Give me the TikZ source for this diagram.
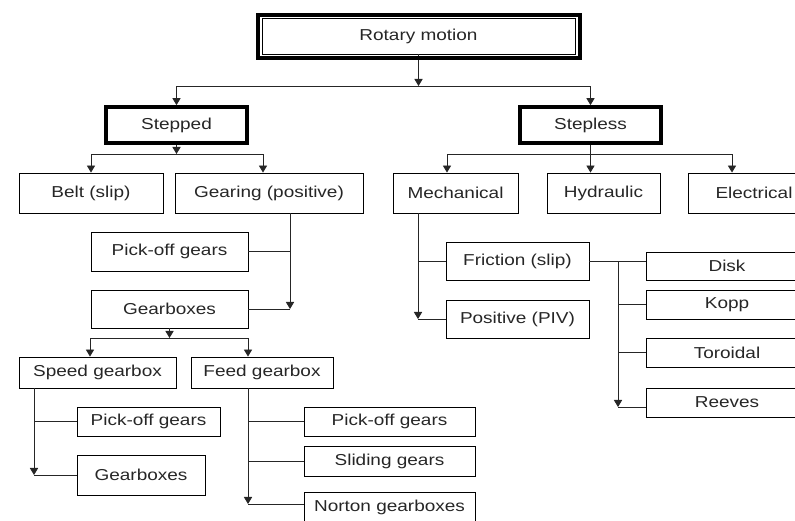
\documentclass[tikz,border=0pt]{standalone}
\usepackage{fontspec}
\setmainfont{Liberation Sans}[FakeStretch=1.2]
\usepackage{tikz}
\usetikzlibrary{arrows.meta,calc}
\tikzset{
	>={Triangle[length=6pt,width=7pt]},
	box/.style={
		draw=black,
		line width=0.8pt,
		inner sep=0pt,
		text=black!85,
		font=\fontsize{13.5}{16}\selectfont
	},
	mainbox/.style={box, line width=3.2pt},
	boxsize/.style 2 args={
		minimum width=#1*0.03cm,
		minimum height=#2*0.03cm
	},
	link/.style={draw=black!85, line width=0.75pt}
}

\begin{document}
\begin{tikzpicture}[x=0.03cm,y=-0.03cm]
	\clip (0,0) rectangle (795,520);

	% levels 0 and 1
	\node [box, boxsize={313}{36}] (root) at (418.5,36) {Rotary motion};
	\node [mainbox, boxsize={141}{36}] (stepped) at (176.5,125) {Stepped};
	\node [mainbox, boxsize={141}{36}] (stepless) at (590.5,125) {Stepless};

	% level 2
	\node [box, boxsize={144}{40}] (belt) at (91,193) {Belt (slip)};
	\node [box, boxsize={188}{40}] (gearing) at (269,193) {Gearing (positive)};
	\node [box, boxsize={125}{40}] (mech) at (455.5,193) {Mechanical};
	\node [box, boxsize={113}{40}] (hydr) at (603.5,193) {Hydraulic};
	\node [box, boxsize={132}{40}] (elec) at (754,193) {Electrical};

	% gearing branch
	\node [box, boxsize={157}{39}] (pick1) at (169.5,251.5) {Pick-off gears};
	\node [box, boxsize={157}{38}] (gbox1) at (169.5,309) {Gearboxes};
	\node [box, boxsize={157}{31}] (speed) at (97.5,372.5) {Speed gearbox};
	\node [box, boxsize={142}{31}] (feed) at (262,372.5) {Feed gearbox};
	\node [box, boxsize={143}{29}] (pick2) at (148.5,421.5) {Pick-off gears};
	\node [box, boxsize={128}{40}] (gbox2) at (141,475) {Gearboxes};
	\node [box, boxsize={171}{29}] (pick3) at (389.5,421.5) {Pick-off gears};
	\node [box, boxsize={171}{30}] (slide) at (389.5,461) {Sliding gears};
	\node [box, boxsize={171}{30}] (norton) at (389.5,507) {Norton gearboxes};

	% mechanical branch
	\node [box, boxsize={143}{38}] (fric) at (517.5,261) {Friction (slip)};
	\node [box, boxsize={143}{38}] (piv) at (517.5,319) {Positive (PIV)};
	\node [box, boxsize={162}{28}] (disk) at (727,266) {Disk};
	\node [box, boxsize={162}{29}] (kopp) at (727,304.5) {Kopp};
	\node [box, boxsize={162}{29}] (toro) at (727,352.5) {Toroidal};
	\node [box, boxsize={162}{29}] (reeves) at (727,402.5) {Reeves};

	% bus points and corners
	\coordinate (rtL) at (176.5,86);
	\coordinate (rtR) at (590.5,86);
	\coordinate (spL) at (91,154);
	\coordinate (spR) at (263,154);
	\coordinate (slL) at (447,154);
	\coordinate (slR) at (732,154);
	\coordinate (gv) at (290,309);
	\coordinate (gbL) at (90,338);
	\coordinate (gbR) at (248,338);
	\coordinate (spv) at (34,475);
	\coordinate (fdv) at (248,504);
	\coordinate (mv) at (418,319);
	\coordinate (frv) at (618,407);

	% root
	\draw [link,->] (root) -- (root |- rtL);
	\draw [link] (rtL) -- (rtR);
	\draw [link,->] (rtL) -- (stepped);
	\draw [link,->] (rtR) -- (stepless);
	\draw [line width=3.4pt] ($(root.north west)+(-4,-3)$) rectangle ($(root.south east)+(5,4)$);

	% stepped
	\draw [link,->] (stepped) -- (stepped |- spL);
	\draw [link] (spL) -- (spR);
	\draw [link,->] (spL) -- (belt);
	\draw [link,->] (spR) -- (spR |- gearing.north);

	% stepless
	\draw [link] (slL) -- (slR);
	\draw [link,->] (slL) -- (slL |- mech.north);
	\draw [link,->] (stepless) -- (stepless |- hydr.north);
	\draw [link,->] (slR) -- (slR |- elec.north);

	% gearing
	\draw [link,->] (gv |- gearing.south) -- (gv);
	\draw [link] (gv) -- (gbox1);
	\draw [link] (pick1) -- (pick1 -| gv);

	% gearboxes
	\draw [link,->] (gbox1) -- (gbox1 |- gbL);
	\draw [link] (gbL) -- (gbR);
	\draw [link,->] (gbL) -- (gbL |- speed.north);
	\draw [link,->] (gbR) -- (gbR |- feed.north);

	% speed gearbox
	\draw [link,->] (spv |- speed.south) -- (spv);
	\draw [link] (spv) -- (spv -| gbox2.west);
	\draw [link] (pick2) -- (pick2 -| spv);

	% feed gearbox
	\draw [link,->] (fdv |- feed.south) -- (fdv);
	\draw [link] (fdv) -- (fdv -| norton.west);
	\draw [link] (pick3) -- (pick3 -| fdv);
	\draw [link] (slide) -- (slide -| fdv);

	% mechanical
	\draw [link,->] (mv |- mech.south) -- (mv);
	\draw [link] (mv) -- (piv);
	\draw [link] (fric) -- (fric -| mv);

	% friction
	\draw [link] (fric) -- (fric -| disk.west);
	\draw [link,->] (fric -| frv) -- (frv);
	\draw [link] (frv) -- (frv -| reeves.west);
	\draw [link] (kopp) -- (kopp -| frv);
	\draw [link] (toro) -- (toro -| frv);
\end{tikzpicture}
\end{document}
